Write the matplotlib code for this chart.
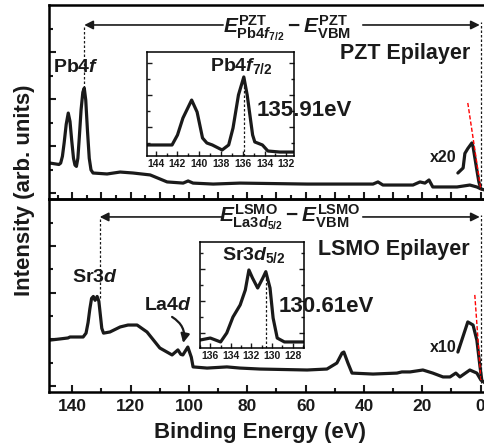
import matplotlib.pyplot as plt
from matplotlib.ticker import MultipleLocator, FixedLocator

plt.rcParams.update({
    "font.family": ["Liberation Sans", "DejaVu Sans"],
    "font.weight": "bold",
    "mathtext.fontset": "custom",
    "mathtext.rm": "Liberation Sans:bold",
    "mathtext.it": "Liberation Sans:bold:italic",
    "mathtext.bf": "Liberation Sans:bold",
    "mathtext.sf": "Liberation Sans:bold",
    "text.color": "#1a1a1a",
    "axes.linewidth": 1.8,
})

INK = "#1a1a1a"

# ---- PZT epilayer survey (top panel) ----
pzt_be = [148, 144.6, 144.0, 143.4, 142.8, 142.1, 141.4, 140.8, 140.2, 139.6,
          139.1, 138.6, 138.1, 137.6, 137.0, 136.4, 135.91, 135.4, 134.8,
          134.2, 133.6, 132.9, 128.1, 123.6, 119.2, 113.3,
          107.5, 102.0, 100.3, 98.6, 91.7, 82.5, 59.5, 36.9, 35.2, 33.5,
          23.2, 20.8, 19.1, 17.7, 16.4, 8.1, 3.7, 1.3, -0.1, -1.5]
pzt_int = [18.6, 17.8, 18.5, 22.0, 29.0, 38.5, 44.3, 40.0, 30.0, 21.0,
           17.5, 16.8, 21.0, 32.0, 46.0, 55.0, 57.2, 51.0, 35.0,
           21.0, 15.0, 13.4, 12.9, 13.9, 13.4, 12.4,
           8.8, 8.2, 9.3, 8.2, 7.7, 8.2, 7.7, 7.7, 8.8, 7.2,
           7.2, 8.8, 8.2, 9.8, 6.2, 6.2, 7.2, 6.2, 5.2, 4.6]
pzt_x20_be = [7.8, 6.0, 5.4, 4.4, 3.0, 2.6, 1.3, 0.6, 0.0]
pzt_x20_int = [13.4, 16.0, 23.5, 26.0, 28.9, 27.0, 15.0, 8.8, 5.5]
pzt_tangent_be = [4.4, -0.1]
pzt_tangent_int = [49.5, 4.6]

# ---- LSMO epilayer survey (bottom panel) ----
lsmo_be = [148, 147.6, 144.2, 141.5, 140.8, 136.3, 135.3, 134.6, 134.0, 133.4,
           132.8, 132.2, 131.5, 130.9, 130.4, 129.9, 129.3, 127.1, 123.6, 120.9,
           117.8, 114.4, 110.0, 105.8, 103.8, 102.8, 102.1, 100.4, 99.2, 98.6,
           93.8, 87.0, 82.5, 75.7, 59.5, 52.7, 49.3, 47.5, 46.9, 45.5, 44.1,
           36.9, 28.7, 27.0, 24.2, 19.8, 16.4, 12.9, 10.5, 8.5, 7.1, 3.7, 1.3,
           -0.1, -1.5]
lsmo_int = [26.9, 26.9, 27.5, 28.0, 28.5, 28.5, 30.5, 36.0, 43.0, 48.5,
            49.5, 47.5, 49.5, 47.0, 40.0, 33.0, 30.5, 31.1, 33.7, 34.7,
            34.7, 31.1, 22.8, 19.2, 21.8, 19.5, 19.2, 23.3, 18.0, 13.0,
            12.4, 13.0, 12.4, 11.9, 11.4, 11.9, 15.0, 20.2, 20.7, 15.0, 9.8,
            9.3, 9.8, 10.4, 10.4, 11.4, 9.8, 7.8, 7.8, 9.8, 7.8, 11.4, 9.8,
            6.2, 4.7]
lsmo_x10_be = [7.8, 6.1, 4.4, 2.6, 1.3, 0.2, -0.4]
lsmo_x10_int = [20.7, 28.5, 36.3, 34.7, 26.9, 13.0, 6.2]
lsmo_tangent_be = [2.0, -0.1]
lsmo_tangent_int = [50.3, 6.2]

# ---- high-resolution core levels (insets) ----
pb4f_be = [144.8, 142.5, 142.0, 141.5, 140.7, 140.2, 139.7, 139.3, 138.8,
           137.9, 137.3, 136.9, 136.4, 135.91, 135.6, 135.1, 134.9, 134.2,
           133.7, 132.6, 131.4]
pb4f_int = [10.6, 10.6, 20.2, 36.5, 53.8, 42.3, 17.3, 12.5, 10.6,
            5.8, 10.6, 26.9, 58.7, 76.0, 58.7, 20.2, 13.5, 10.6,
            4.8, 3.8, 3.8]
sr3d_be = [137.0, 136.0, 135.0, 134.4, 133.8, 133.1, 132.6, 132.25, 131.9,
           131.4, 130.9, 130.61, 130.2, 129.9, 129.5, 128.8, 127.0]
sr3d_int = [7.5, 9.4, 5.7, 14.2, 29.2, 40.6, 54.7, 73.6, 66.0,
            56.6, 66.0, 72.0, 56.6, 28.3, 9.4, 5.7, 5.7]

pb4f_peak, pb4f_peak_int = 135.91, 57.2
sr3d_peak, sr3d_peak_int = 130.61, 48.5
vbm = 0.0

fig = plt.figure(figsize=(4.85, 4.48), dpi=100)
W, H = 485.0, 448.0


def fx(px):
    return px / W


def fy(py):
    return 1 - py / H


ax_top = fig.add_axes([fx(49), fy(199), fx(436), 194 / H])
ax_bot = fig.add_axes([fx(49), fy(392), fx(436), 193 / H])

line_kw = dict(color=INK, lw=2.3, solid_joinstyle="round", solid_capstyle="round")
dot_kw = dict(color=INK, lw=0.9, ls=(0, (2, 1.6)))
y_major = [3.1, 27.3, 51.5, 75.8]
y_minor = [15.2, 39.4, 63.6, 87.7]

for ax in (ax_top, ax_bot):
    ax.set_xlim(148, -1.5)
    ax.set_ylim(0, 100)
    ax.spines["right"].set_visible(False)
    ax.yaxis.set_major_locator(FixedLocator(y_major))
    ax.yaxis.set_minor_locator(FixedLocator(y_minor))
    ax.tick_params(which="both", direction="in", width=1.5, colors=INK,
                   labelleft=False, top=False, right=False)
    ax.tick_params(which="major", length=5)
    ax.tick_params(which="minor", length=3)
    ax.patch.set_alpha(0)

ax_top.xaxis.set_major_locator(MultipleLocator(10))
ax_top.xaxis.set_minor_locator(MultipleLocator(5))
ax_top.tick_params(labelbottom=False)
ax_bot.xaxis.set_major_locator(MultipleLocator(20))
ax_bot.xaxis.set_minor_locator(MultipleLocator(10))
ax_bot.tick_params(axis="x", labelsize=12.5, pad=5)
ax_bot.set_xticks([140, 120, 100, 80, 60, 40, 20, 0])

# ---- top panel ----
ax_top.plot(pzt_be, pzt_int, **line_kw)
ax_top.plot(pzt_x20_be, pzt_x20_int, **line_kw)
ax_top.plot(pzt_tangent_be, pzt_tangent_int, color="red", lw=1.0, ls=(0, (3, 1.5)))
ax_top.plot([pb4f_peak, pb4f_peak], [pb4f_peak_int, 89.7], **dot_kw)
ax_top.plot([vbm, vbm], [4.6, 91.2], **dot_kw)
arr = dict(arrowstyle="-|>", color=INK, lw=1.2, mutation_scale=13,
           shrinkA=0, shrinkB=0)
ax_top.annotate("", xy=(pb4f_peak, 89.7), xytext=(88.3, 89.7), arrowprops=arr)
ax_top.annotate("", xy=(vbm + 0.3, 89.7), xytext=(40.4, 89.7), arrowprops=arr)

# ---- bottom panel ----
ax_bot.plot(lsmo_be, lsmo_int, **line_kw)
ax_bot.plot(lsmo_x10_be, lsmo_x10_int, **line_kw)
ax_bot.plot(lsmo_tangent_be, lsmo_tangent_int, color="red", lw=1.0, ls=(0, (3, 1.5)))
ax_bot.plot([sr3d_peak, sr3d_peak], [sr3d_peak_int, 90.7], **dot_kw)
ax_bot.plot([vbm, vbm], [4.7, 91.7], **dot_kw)
ax_bot.annotate("", xy=(sr3d_peak, 90.7), xytext=(88.6, 90.7), arrowprops=arr)
ax_bot.annotate("", xy=(vbm + 0.3, 90.7), xytext=(40.4, 90.7), arrowprops=arr)
ax_bot.annotate("", xy=(102.0, 25.4), xytext=(105.8, 38.9),
                arrowprops=dict(arrowstyle="-|>", color=INK, lw=1.6,
                                mutation_scale=13, shrinkA=0, shrinkB=0,
                                connectionstyle="arc3,rad=-0.35"))


def make_inset(rect, be, inten, peak, xlim, y_maj, y_min):
    ins = fig.add_axes(rect)
    ins.plot(be, inten, **line_kw)
    pk = inten[be.index(peak)] if peak in be else max(inten)
    ins.plot([peak, peak], [0, pk], **dot_kw)
    ins.set_xlim(*xlim)
    ins.set_ylim(0, 100)
    ins.xaxis.set_major_locator(MultipleLocator(2))
    ins.xaxis.set_minor_locator(MultipleLocator(1))
    ins.yaxis.set_major_locator(FixedLocator(y_maj))
    ins.yaxis.set_minor_locator(FixedLocator(y_min))
    for s in ins.spines.values():
        s.set_linewidth(1.1)
    ins.tick_params(which="both", direction="in", width=1.0, colors=INK,
                    left=True, right=True, top=False, labelleft=False,
                    labelsize=7.5, pad=2)
    ins.tick_params(which="major", length=3.5)
    ins.tick_params(which="minor", length=2)
    return ins


ins1 = make_inset([fx(147), fy(156), fx(147), 104 / H], pb4f_be, pb4f_int,
                  pb4f_peak, (144.8, 131.3), [27.9, 58.9, 89.9], [12.4, 43.4, 74.4])
ins2 = make_inset([fx(200), fy(348), fx(104), 106 / H], sr3d_be, sr3d_int,
                  sr3d_peak, (137.0, 126.9), [14.2, 44.3, 74.5], [29.2, 59.4, 89.6])

# ---- text ----
fs_lab = 14
fig.text(fx(76), fy(68), "Pb4$f$", ha="center", va="center", fontsize=fs_lab)
fig.text(fx(405), fy(53), "PZT Epilayer", ha="center", va="center", fontsize=15.5)
fig.text(fx(210), fy(66), "Pb4$f_{7/2}$", ha="left", va="center", fontsize=fs_lab)
fig.text(fx(304), fy(110), "135.91eV", ha="center", va="center", fontsize=16)
fig.text(fx(443), fy(157), "x20", ha="center", va="center", fontsize=11.5)
fig.text(fx(287), fy(33),
         r"$E^{\mathrm{PZT}}_{\mathrm{Pb4}f_{7/2}}-E^{\mathrm{PZT}}_{\mathrm{VBM}}$",
         ha="center", va="baseline", fontsize=15)

fig.text(fx(95), fy(277), "Sr3$d$", ha="center", va="center", fontsize=fs_lab)
fig.text(fx(168), fy(305), "La4$d$", ha="center", va="center", fontsize=fs_lab)
fig.text(fx(222), fy(255), "Sr3$d_{5/2}$", ha="left", va="center", fontsize=fs_lab)
fig.text(fx(394), fy(250), "LSMO Epilayer", ha="center", va="center", fontsize=15.5)
fig.text(fx(326), fy(307), "130.61eV", ha="center", va="center", fontsize=16)
fig.text(fx(443), fy(347), "x10", ha="center", va="center", fontsize=11.5)
fig.text(fx(290), fy(222),
         r"$E^{\mathrm{LSMO}}_{\mathrm{La3}d_{5/2}}-E^{\mathrm{LSMO}}_{\mathrm{VBM}}$",
         ha="center", va="baseline", fontsize=15)

fig.text(fx(260), fy(432), "Binding Energy (eV)", ha="center", va="center", fontsize=16)
fig.text(fx(25), fy(190), "Intensity (arb. units)", ha="center", va="center",
         rotation=90, fontsize=16)

fig.savefig("out.png", dpi=100)
